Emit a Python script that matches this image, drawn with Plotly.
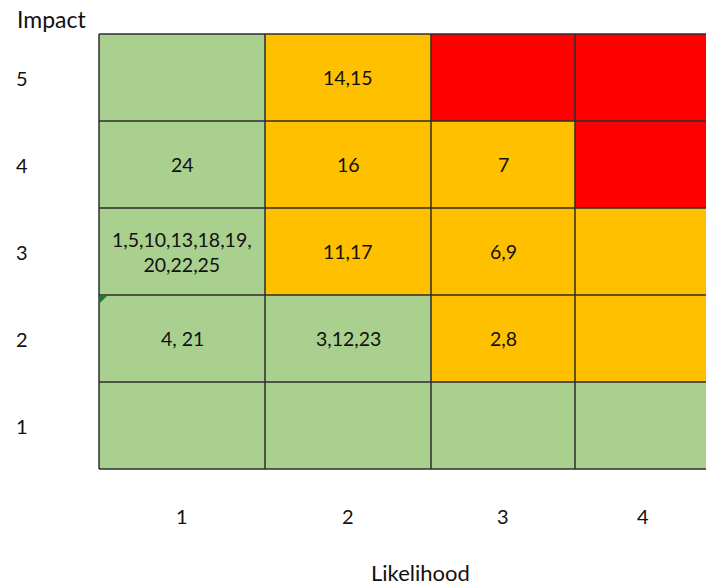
import numpy as np
import plotly.graph_objects as go

# Risk matrix data
likelihood = ["1", "2", "3", "4"]
impact = ["5", "4", "3", "2", "1"]          # top row first
# risk level per cell: 0 = low (green), 1 = medium (amber), 2 = high (red)
risk_level = [
    [0, 1, 2, 2],
    [0, 1, 1, 2],
    [0, 1, 1, 1],
    [0, 0, 1, 1],
    [0, 0, 0, 0],
]
risk_ids = [
    ["", "14,15", "", ""],
    ["24", "16", "7", ""],
    ["1,5,10,13,18,19,<br>20,22,25", "11,17", "6,9", ""],
    ["4, 21", "3,12,23", "2,8", ""],
    ["", "", "", ""],
]

# Layout geometry (page units, y grows downward)
W, H = 706, 587
left, top = 99, 34
col_widths = [166, 166, 144, 136]
row_height = 87
x_edges = left + np.concatenate([[0], np.cumsum(col_widths)])
y_edges = top + row_height * np.arange(len(impact) + 1)
x_mid = (x_edges[:-1] + x_edges[1:]) / 2
y_mid = (y_edges[:-1] + y_edges[1:]) / 2

GREEN, AMBER, RED = "#A9D08E", "#FFC000", "#FF0000"
colorscale = [[0, GREEN], [1 / 3, GREEN], [1 / 3, AMBER], [2 / 3, AMBER], [2 / 3, RED], [1, RED]]

FONT = "Lato"
TXT = "#111111"

fig = go.Figure(go.Heatmap(
    x=x_edges, y=y_edges, z=risk_level,
    zmin=-0.5, zmax=2.5, colorscale=colorscale,
    showscale=False, hoverinfo="skip",
))

line = dict(color="#2e2e2e", width=1.5)
shapes = []
for xe in x_edges:
    shapes.append(dict(type="line", x0=xe, x1=xe, y0=y_edges[0], y1=y_edges[-1], line=line))
for ye in y_edges:
    shapes.append(dict(type="line", x0=x_edges[0], x1=x_edges[-1], y0=ye, y1=ye, line=line))
# small comment marker in the corner of one cell
shapes.append(dict(type="path",
                   path=f"M {x_edges[0]+1},{y_edges[3]+1} L {x_edges[0]+8},{y_edges[3]+1} L {x_edges[0]+1},{y_edges[3]+8} Z",
                   fillcolor="#1E7B34", line=dict(width=0)))

annotations = []
for r, row in enumerate(risk_ids):
    for c, txt in enumerate(row):
        if txt:
            annotations.append(dict(x=x_mid[c], y=y_mid[r], text=txt, showarrow=False,
                                    font=dict(family=FONT, size=19.5, color=TXT), align="center"))
for r, lab in enumerate(impact):
    annotations.append(dict(x=22, y=y_mid[r], text=lab, showarrow=False,
                            font=dict(family=FONT, size=20, color=TXT)))
for c, lab in enumerate(likelihood):
    annotations.append(dict(x=x_mid[c], y=516, text=lab, showarrow=False,
                            font=dict(family=FONT, size=20, color=TXT)))
annotations.append(dict(x=51, y=19, text="Impact", showarrow=False,
                        font=dict(family=FONT, size=23, color=TXT)))
annotations.append(dict(x=420, y=572, text="Likelihood", showarrow=False,
                        font=dict(family=FONT, size=22, color=TXT)))

fig.update_layout(
    width=W, height=H, margin=dict(l=0, r=0, t=0, b=0),
    paper_bgcolor="white", plot_bgcolor="white",
    xaxis=dict(range=[0, W], visible=False, fixedrange=True),
    yaxis=dict(range=[H, 0], visible=False, fixedrange=True),
    shapes=shapes, annotations=annotations, showlegend=False,
)

fig.write_html("out.html")
